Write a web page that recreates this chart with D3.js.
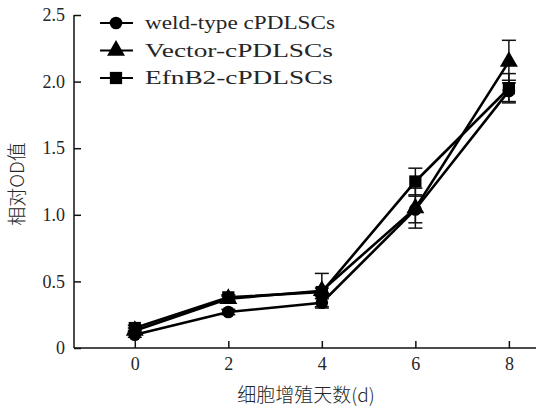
<!DOCTYPE html>
<html><head><meta charset="utf-8">
<script src="https://cdn.jsdelivr.net/npm/d3@7"></script>
<style>body{margin:0;background:#fff}svg{display:block}</style>
</head><body>
<script>
const days = [0, 2, 4, 6, 8];
const seriesNames = ["weld-type cPDLSCs", "Vector-cPDLSCs", "EfnB2-cPDLSCs"];
const weldValues = [0.10, 0.27, 0.34, 1.04, 1.93];
const weldErrors = [0.02, 0.02, 0.03, 0.10, 0.08];
const vectorValues = [0.13, 0.37, 0.43, 1.05, 2.15];
const vectorErrors = [0.02, 0.02, 0.13, 0.15, 0.16];
const efnValues = [0.15, 0.38, 0.42, 1.25, 1.95];
const efnErrors = [0.02, 0.02, 0.03, 0.10, 0.11];
const yTicks = [0, 0.5, 1.0, 1.5, 2.0, 2.5];
const yTickLabels = ["0", "0.5", "1.0", "1.5", "2.0", "2.5"];
const xTickLabels = ["0", "2", "4", "6", "8"];
const xTitle = "细胞增殖天数(d)";
const yTitle = "相对OD值";

const W = 536, H = 412;
const svg = d3.select("body").append("svg").attr("width", W).attr("height", H);
const x = d3.scaleLinear().domain([-1.3, 8.58]).range([74, 536]);
const y = d3.scaleLinear().domain([0, 2.5]).range([348, 15]);
const serif = "'Liberation Serif','Times New Roman',serif";
const cjk = "'Noto Sans CJK SC',sans-serif";
const txt = "#262626";

const series = [
  {name: seriesNames[0], v: weldValues, e: weldErrors, sym: d3.symbolCircle, size: 125, len: 190},
  {name: seriesNames[1], v: vectorValues, e: vectorErrors, sym: d3.symbolTriangle, size: 140, len: 188},
  {name: seriesNames[2], v: efnValues, e: efnErrors, sym: d3.symbolSquare, size: 150, len: 188}
];

// axes
const xAxis = svg.append("g").attr("transform", `translate(0,${y(0)})`)
  .call(d3.axisBottom(x).tickValues(days).tickSize(-7).tickPadding(9).tickFormat((d,i)=>xTickLabels[i]));
const yAxis = svg.append("g").attr("transform", `translate(${x.range()[0]},0)`)
  .call(d3.axisLeft(y).tickValues(yTicks).tickSize(-7).tickPadding(9).tickFormat((d,i)=>yTickLabels[i]));
[xAxis, yAxis].forEach(g => {
  g.select(".domain").attr("stroke", "#111").attr("stroke-width", 1.5);
  g.selectAll(".tick line").attr("stroke", "#111").attr("stroke-width", 1.5);
  g.selectAll(".tick text").attr("font-family", serif).attr("font-size", 18).attr("fill", txt);
});
xAxis.select(".domain").attr("d", `M${x.range()[0]},0H${x.range()[1]}`);
yAxis.select(".domain").attr("d", `M0,${y(0)}V${y(2.5)}`);

// titles
svg.append("text").attr("x", 306).attr("y", 402).attr("text-anchor", "middle")
  .attr("font-family", cjk).attr("font-weight", 300).attr("font-size", 19).attr("fill", txt).text(xTitle);
svg.append("text").attr("transform", `translate(24,${184}) rotate(-90)`).attr("text-anchor", "middle")
  .attr("font-family", cjk).attr("font-weight", 300).attr("font-size", 19).attr("fill", txt).text(yTitle);

// error bars
const cap = 7;
series.forEach(s => {
  const g = svg.append("g");
  days.forEach((d, i) => {
    const cx = x(d), t = y(s.v[i] + s.e[i]), b = y(s.v[i] - s.e[i]);
    g.append("line").attr("x1", cx).attr("x2", cx).attr("y1", t).attr("y2", b).attr("stroke", "#111").attr("stroke-width", 1.5);
    g.append("line").attr("x1", cx - cap).attr("x2", cx + cap).attr("y1", t).attr("y2", t).attr("stroke", "#111").attr("stroke-width", 1.5);
    g.append("line").attr("x1", cx - cap).attr("x2", cx + cap).attr("y1", b).attr("y2", b).attr("stroke", "#111").attr("stroke-width", 1.5);
  });
});

// lines
const line = d3.line().x((d, i) => x(days[i])).y(d => y(d));
series.forEach(s => {
  svg.append("path").attr("d", line(s.v)).attr("fill", "none").attr("stroke", "#000").attr("stroke-width", 2.6);
});
// markers
series.forEach(s => {
  svg.append("g").selectAll("path").data(s.v).join("path")
    .attr("transform", (d, i) => `translate(${x(days[i])},${y(d)})`)
    .attr("d", d3.symbol().type(s.sym).size(s.size)).attr("fill", "#000");
});

// legend
const leg = svg.append("g");
series.forEach((s, i) => {
  const ly = 23 + i * 27.5;
  leg.append("line").attr("x1", 100).attr("x2", 133).attr("y1", ly).attr("y2", ly).attr("stroke", "#000").attr("stroke-width", 2);
  leg.append("path").attr("transform", `translate(116,${ly})`).attr("d", d3.symbol().type(s.sym).size(s.size)).attr("fill", "#000");
  leg.append("text").attr("x", 145).attr("y", ly + 6).attr("font-family", serif).attr("font-size", 19)
    .attr("textLength", s.len).attr("lengthAdjust", "spacingAndGlyphs").attr("fill", txt).text(s.name);
});
</script>
</body></html>
